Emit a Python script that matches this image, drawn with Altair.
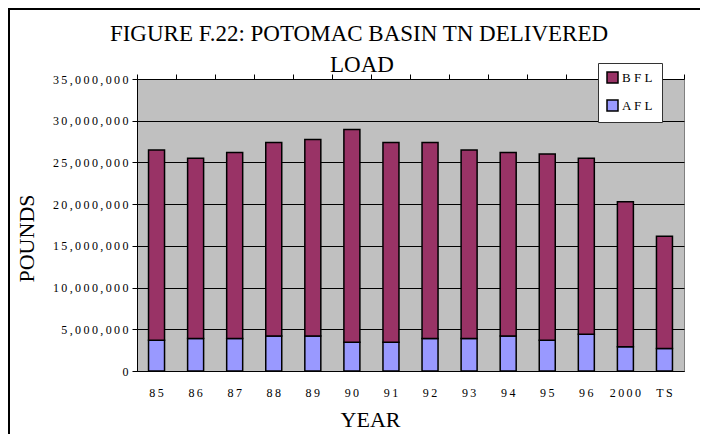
import altair as alt
import pandas as pd

years = ["85", "86", "87", "88", "89", "90", "91", "92", "93", "94", "95", "96", "2000", "TS"]
afl = [3700000, 3900000, 3900000, 4200000, 4200000, 3450000, 3450000, 3900000, 3900000, 4200000, 3700000, 4400000, 2900000, 2700000]
bfl = [22800000, 21600000, 22300000, 23200000, 23550000, 25500000, 23950000, 23500000, 22600000, 22000000, 22300000, 21100000, 17400000, 13450000]
series_names = ["BFL", "AFL"]
series_colors = ["#993366", "#9999FF"]
y_ticks = [0, 5000000, 10000000, 15000000, 20000000, 25000000, 30000000, 35000000]
title_lines = ["FIGURE F.22: POTOMAC BASIN TN DELIVERED", "LOAD"]

rows = []
for i, yr in enumerate(years):
    rows.append({"year": yr, "series": "AFL", "value": afl[i], "ord": 0})
    rows.append({"year": yr, "series": "BFL", "value": bfl[i], "ord": 1})
df = pd.DataFrame(rows)
df_years = pd.DataFrame({"year": years})

FONT = "Liberation Serif"
W, H = 547, 292
spaced = "join(split(datum.label, ''), '\u2009')"

bars = alt.Chart(df).mark_bar(size=16, stroke="black", strokeWidth=1.5).encode(
    x=alt.X("year:N", sort=years,
            scale=alt.Scale(paddingInner=0, paddingOuter=0),
            axis=alt.Axis(title="YEAR", ticks=False, tickSize=0, labelPadding=16,
                          labelAngle=0, labelExpr=spaced, labelFont=FONT, labelFontSize=12,
                          labelColor="black", domainColor="black", domainWidth=1,
                          titleFont=FONT, titleFontSize=22, titleFontWeight="normal",
                          titleColor="black", titleX=233, titleY=55,
                          titleBaseline="alphabetic", titleAlign="center", grid=False)),
    y=alt.Y("value:Q", stack="zero",
            scale=alt.Scale(domain=[0, 35000000], nice=False),
            axis=alt.Axis(values=y_ticks, format=",d", labelExpr=spaced,
                          labelFont=FONT, labelFontSize=12, labelColor="black",
                          tickColor="black", tickSize=5, labelPadding=4,
                          domainColor="black", domainWidth=1,
                          grid=True, gridColor="black", gridWidth=1,
                          title="POUNDS", titleFont=FONT, titleFontSize=22,
                          titleFontWeight="normal", titleColor="black",
                          titleAngle=270, titleX=-104, titleY=159,
                          titleBaseline="alphabetic", titleAlign="center")),
    color=alt.Color("series:N",
                    scale=alt.Scale(domain=series_names, range=series_colors),
                    legend=alt.Legend(title=None, orient="none", legendX=461, legendY=-16,
                                      fillColor="white", strokeColor="#333333",
                                      padding=8, symbolType="square", symbolSize=121,
                                      symbolStrokeColor="black", symbolStrokeWidth=1.5,
                                      labelFont=FONT, labelFontSize=13, labelColor="black",
                                      labelExpr="join(split(datum.label, ''), ' ')",
                                      rowPadding=11, labelOffset=3)),
    order=alt.Order("ord:Q"),
)

ticks0 = alt.Chart(df_years).mark_point(opacity=0).encode(
    x=alt.X("year:N", sort=years,
            axis=alt.Axis(bandPosition=0, labels=False, domain=False, title=None,
                          tickSize=5, tickColor="black", grid=False))
)
ticks1 = alt.Chart(df_years).mark_point(opacity=0).encode(
    x=alt.X("year:N", sort=years,
            axis=alt.Axis(bandPosition=1, values=["TS"], labels=False, domain=False,
                          title=None, tickSize=5, tickColor="black", grid=False))
)

title1 = alt.Chart(alt.Data(values=[{"t": title_lines[0]}])).mark_text(
    font=FONT, fontSize=23, color="black", align="center", baseline="alphabetic"
).encode(text="t:N", x=alt.value(222), y=alt.value(-38))
title2 = alt.Chart(alt.Data(values=[{"t": title_lines[1]}])).mark_text(
    font=FONT, fontSize=23, color="black", align="center", baseline="alphabetic"
).encode(text="t:N", x=alt.value(225), y=alt.value(-7))

border_left = alt.Chart(alt.Data(values=[{}])).mark_rule(color="black", strokeWidth=2).encode(
    x=alt.value(-128), y=alt.value(-71), y2=alt.value(H + 63)
)
border_top = alt.Chart(alt.Data(values=[{}])).mark_rule(color="black", strokeWidth=2).encode(
    x=alt.value(-128), x2=alt.value(W + 16), y=alt.value(-70)
)

chart = alt.layer(bars, ticks0, ticks1, title1, title2, border_left, border_top).resolve_axis(
    x="independent"
).properties(
    width=W, height=H,
    autosize=alt.AutoSizeParams(type="none"),
    padding={"left": 129, "top": 71, "right": 16, "bottom": 63},
    background="white",
).configure_view(fill="#C0C0C0", stroke="#808080", strokeWidth=1)

chart.save("out.html", embed_options={"renderer": "svg", "actions": False})
